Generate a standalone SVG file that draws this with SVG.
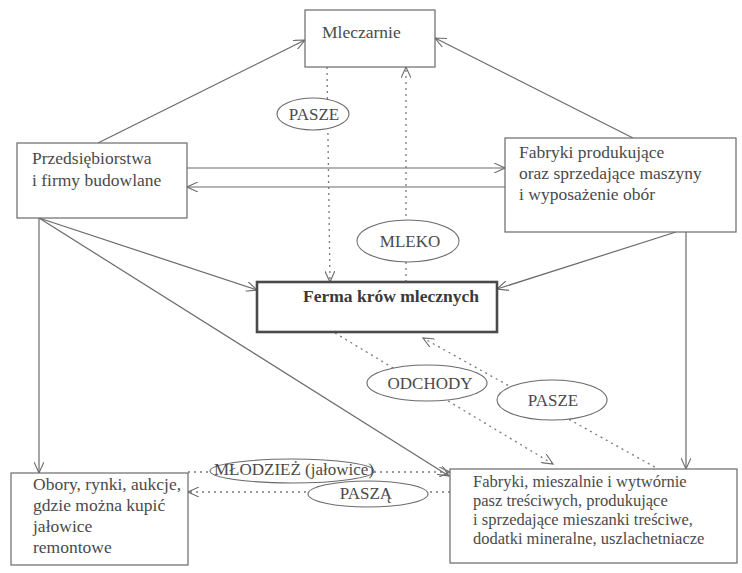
<svg xmlns="http://www.w3.org/2000/svg" width="742" height="573" viewBox="0 0 742 573">
  <style>
    .box { fill: #ffffff; stroke: #6a6a6a; stroke-width: 1.2; }
    .main { fill: #ffffff; stroke: #4a4a4a; stroke-width: 2.6; }
    .lbl { fill: #ffffff; stroke: #6a6a6a; stroke-width: 1.1; }
    .t { font-family: "Liberation Serif", "Times New Roman", serif; font-size: 17.5px; fill: #4a4a4a; }
    .ts { font-family: "Liberation Serif", "Times New Roman", serif; font-size: 16.5px; fill: #4a4a4a; }
    .e { font-family: "Liberation Serif", "Times New Roman", serif; font-size: 17px; fill: #4a4a4a; }
    .tb { font-family: "Liberation Serif", "Times New Roman", serif; font-size: 17.5px; font-weight: bold; fill: #3a3a3a; }
    .solid { stroke: #6a6a6a; stroke-width: 1.2; fill: none; marker-end: url(#arr); }
    .dot { stroke: #7a7a7a; stroke-width: 1.3; stroke-dasharray: 2 4; fill: none; marker-end: url(#arr); }
  </style>
  <defs>
    <marker id="arr" viewBox="0 0 12 10" refX="11" refY="5" markerWidth="12" markerHeight="10" markerUnits="userSpaceOnUse" orient="auto">
      <path d="M0,0 L11,5 L0,10" fill="none" stroke="#6a6a6a" stroke-width="1.1"/>
    </marker>
  </defs>
  <rect width="742" height="573" fill="#ffffff"/>

  <g id="connectors">
    <!-- solid flows -->
    <line class="solid" x1="98" y1="143" x2="305" y2="40"/>
    <line class="solid" x1="633" y1="138" x2="435" y2="38"/>
    <line class="solid" x1="187" y1="168" x2="505" y2="168"/>
    <line class="solid" x1="505" y1="187" x2="187" y2="187"/>
    <line class="solid" x1="39" y1="218" x2="257" y2="290"/>
    <line class="solid" x1="39" y1="218" x2="449" y2="476"/>
    <line class="solid" x1="39" y1="218" x2="39" y2="473"/>
    <line class="solid" x1="676" y1="232" x2="497" y2="289"/>
    <line class="solid" x1="686" y1="232" x2="686" y2="469"/>
    <!-- dotted flows -->
    <line class="dot" x1="327" y1="67" x2="330" y2="282"/>
    <line class="dot" x1="406" y1="282" x2="406" y2="67"/>
    <line class="dot" x1="335" y1="333" x2="553" y2="464"/>
    <line class="dot" x1="660" y1="470" x2="423" y2="338"/>
    <line class="dot" x1="188" y1="472" x2="450" y2="472"/>
    <line class="dot" x1="450" y1="492" x2="188" y2="492"/>
  </g>

  <g id="labels">
    <g id="lbl-pasze-top">
      <ellipse class="lbl" cx="313" cy="114" rx="36" ry="16"/>
      <text class="e" x="314" y="120" text-anchor="middle">PASZE</text>
    </g>
    <g id="lbl-mleko">
      <ellipse class="lbl" cx="408" cy="241" rx="51" ry="21"/>
      <text class="e" x="410" y="247" text-anchor="middle">MLEKO</text>
    </g>
    <g id="lbl-odchody">
      <ellipse class="lbl" cx="427" cy="383" rx="60" ry="18"/>
      <text class="e" x="430" y="389" text-anchor="middle">ODCHODY</text>
    </g>
    <g id="lbl-pasze-mid">
      <ellipse class="lbl" cx="552" cy="400" rx="55" ry="20"/>
      <text class="e" x="553" y="406" text-anchor="middle">PASZE</text>
    </g>
    <g id="lbl-mlodziez">
      <ellipse class="lbl" cx="292" cy="471" rx="82" ry="12"/>
      <text class="e" x="294" y="475" text-anchor="middle">MŁODZIEŻ (jałowice)</text>
    </g>
    <g id="lbl-pasza">
      <ellipse class="lbl" cx="368" cy="494" rx="60" ry="13"/>
      <text class="e" x="366" y="499" text-anchor="middle">PASZĄ</text>
    </g>
  </g>

  <g id="mleczarnie">
    <rect class="box" x="305" y="10" width="130" height="57"/>
    <text class="t" x="322" y="38">Mleczarnie</text>
  </g>

  <g id="przedsiebiorstwa">
    <rect class="box" x="17" y="143" width="170" height="75"/>
    <text class="t" x="32" y="164">Przedsiębiorstwa</text>
    <text class="t" x="32" y="186">i firmy budowlane</text>
  </g>

  <g id="fabryki-maszyny">
    <rect class="box" x="505" y="138" width="231" height="94"/>
    <text class="t" x="519" y="158">Fabryki produkujące</text>
    <text class="t" x="519" y="179">oraz sprzedające maszyny</text>
    <text class="t" x="519" y="200">i wyposażenie obór</text>
  </g>

  <g id="ferma">
    <rect class="main" x="257" y="282" width="240" height="50"/>
    <text class="tb" x="303" y="302">Ferma krów mlecznych</text>
  </g>

  <g id="obory">
    <rect class="box" x="11" y="473" width="177" height="92"/>
    <text class="t" x="33" y="490">Obory, rynki, aukcje,</text>
    <text class="t" x="33" y="511">gdzie można kupić</text>
    <text class="t" x="33" y="532">jałowice</text>
    <text class="t" x="33" y="553">remontowe</text>
  </g>

  <g id="fabryki-pasz">
    <rect class="box" x="450" y="469" width="287" height="94"/>
    <text class="ts" x="473" y="487">Fabryki, mieszalnie i wytwórnie</text>
    <text class="ts" x="473" y="506">pasz treściwych, produkujące</text>
    <text class="ts" x="473" y="525">i sprzedające mieszanki treściwe,</text>
    <text class="ts" x="473" y="544">dodatki mineralne, uszlachetniacze</text>
  </g>
</svg>
